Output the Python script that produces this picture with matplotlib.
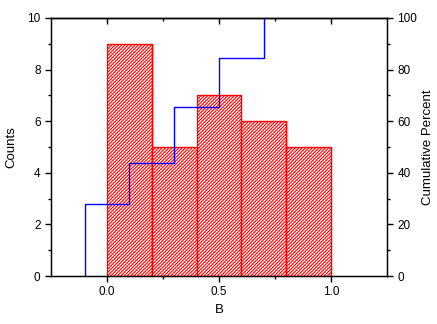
import matplotlib
matplotlib.use('Agg')
import matplotlib.pyplot as plt
from matplotlib.ticker import MultipleLocator, FixedLocator

plt.rcParams['font.family'] = ['Liberation Sans', 'DejaVu Sans']
plt.rcParams['hatch.color'] = 'red'
plt.rcParams['hatch.linewidth'] = 0.8

# histogram data
bin_left = [0.0, 0.2, 0.4, 0.6, 0.8]
bin_width = 0.2
counts = [9, 5, 7, 6, 5]

# cumulative percent step line (x positions of the steps)
cum_x = [-0.1, 0.1, 0.3, 0.5, 0.7]
cum_pct = [28.1, 43.75, 65.6, 84.4, 100.0]

fig = plt.figure(figsize=(4.37, 3.24), dpi=100)
ax = fig.add_axes([0.1167, 0.148, 0.769, 0.7965])

ax.bar(bin_left, counts, width=bin_width, align='edge',
       facecolor='white', edgecolor='red', linewidth=1.0, hatch='//////////')

ax.set_xlim(-0.25, 1.25)
ax.set_ylim(0, 10)
ax.xaxis.set_major_locator(FixedLocator([0.0, 0.5, 1.0]))
ax.xaxis.set_minor_locator(FixedLocator([0.25, 0.75]))
ax.set_xticklabels(['0.0', '0.5', '1.0'])
ax.yaxis.set_major_locator(MultipleLocator(2))
ax.yaxis.set_minor_locator(MultipleLocator(1))
ax.tick_params(axis='both', which='major', labelsize=8.5, length=4, width=1, direction='out')
ax.tick_params(axis='both', which='minor', length=2, width=1, direction='out')
ax.set_xlabel('B', fontsize=9.5, labelpad=4)
ax.set_ylabel('Counts', fontsize=9.5, labelpad=7)
for s in ax.spines.values():
    s.set_linewidth(1.0)

# top axis ticks point inward
top = ax.secondary_xaxis('top')
top.xaxis.set_major_locator(FixedLocator([0.0, 0.5, 1.0]))
top.xaxis.set_minor_locator(FixedLocator([0.25, 0.75]))
top.tick_params(axis='x', which='major', length=4, width=1, direction='in', labeltop=False)
top.tick_params(axis='x', which='minor', length=2, width=1, direction='in')
top.spines['top'].set_linewidth(1.0)

ax2 = ax.twinx()
ax2.set_ylim(0, 100)
xs = [cum_x[0]]
ys = [0]
for i in range(len(cum_x)):
    xs.append(cum_x[i])
    ys.append(cum_pct[i])
    if i + 1 < len(cum_x):
        xs.append(cum_x[i + 1])
        ys.append(cum_pct[i])
ax2.plot(xs, ys, color='blue', linewidth=1.0)
ax2.yaxis.set_major_locator(MultipleLocator(20))
ax2.yaxis.set_minor_locator(MultipleLocator(10))
ax2.tick_params(axis='y', which='major', labelsize=8.5, length=4, width=1, direction='out')
ax2.tick_params(axis='y', which='minor', length=2, width=1, direction='out')
ax2.set_ylabel('Cumulative Percent', fontsize=9.5, labelpad=3)

fig.savefig('out.png', dpi=100)
